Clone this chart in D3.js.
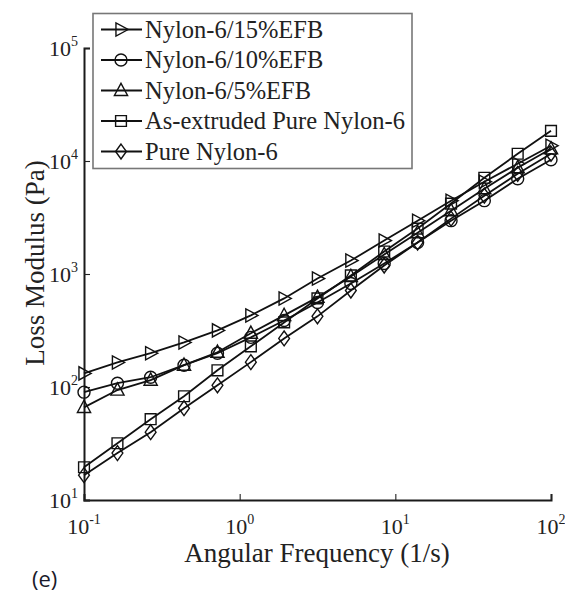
<!DOCTYPE html>
<html>
<head>
<meta charset="utf-8">
<script src="https://cdn.jsdelivr.net/npm/d3@7"></script>
<style>
body { margin: 0; background: #fff; }
</style>
</head>
<body>
<svg id="vis" width="565" height="597"></svg>
<script>
// angular frequency (1/s)
var freq = [0.1, 0.164, 0.268, 0.439, 0.72, 1.18, 1.93, 3.16, 5.18, 8.48, 13.9, 22.8, 37.3, 61.1, 100];

// loss modulus (Pa) per sample
var efb15 = [132, 165, 199, 248, 317, 430, 608, 912, 1315, 1977, 2965, 4456, 6561, 9462, 13650];
var efb10 = [90, 108, 122, 156, 199, 275, 388, 560, 824, 1238, 1897, 2965, 4456, 6966, 10260];
var efb5 = [66, 94, 115, 156, 203, 299, 430, 621, 951, 1486, 2323, 3637, 5690, 8710, 12820];
var extruded = [19.5, 31.8, 51.9, 82.8, 140.6, 229, 373, 608, 971, 1581, 2523, 4198, 7111, 11590, 18490];
var pure = [16.6, 26, 39.8, 64.9, 103.5, 166, 269, 422, 714, 1189, 1897, 3090, 4932, 7709, 11590];

var seriesNames = ["Nylon-6/15%EFB", "Nylon-6/10%EFB", "Nylon-6/5%EFB", "As-extruded Pure Nylon-6", "Pure Nylon-6"];
var seriesValues = [efb15, efb10, efb5, extruded, pure];
var seriesMarkers = ["triRight", "circle", "triangle", "square", "diamond"];

var xTickExp = [-1, 0, 1, 2];
var yTickExp = [1, 2, 3, 4, 5];

var serif = "Liberation Serif";

var svg = d3.select("#vis");

var x = d3.scaleLog().domain([0.1, 100]).range([84, 551]);
var y = d3.scaleLog().domain([10, 1e5]).range([500, 48]);

// marker shapes, open outline
function markerPath(kind, s) {
    var p = d3.path();
    if (kind == "circle") {
        p.arc(0, 0, s * 0.5, 0, 2 * Math.PI);
    } else if (kind == "square") {
        p.rect(-s * 0.45, -s * 0.45, s * 0.9, s * 0.9);
    } else if (kind == "triangle") {
        p.moveTo(0, -s * 0.6); p.lineTo(s * 0.55, s * 0.42); p.lineTo(-s * 0.55, s * 0.42); p.closePath();
    } else if (kind == "triRight") {
        p.moveTo(s * 0.6, 0); p.lineTo(-s * 0.42, s * 0.55); p.lineTo(-s * 0.42, -s * 0.55); p.closePath();
    } else if (kind == "diamond") {
        p.moveTo(0, -s * 0.62); p.lineTo(s * 0.45, 0); p.lineTo(0, s * 0.62); p.lineTo(-s * 0.45, 0); p.closePath();
    }
    return p.toString();
}

// axes: minor and major ticks pointing inward
var gx = svg.append("g").attr("transform", "translate(0,500)");
gx.call(d3.axisBottom(x).tickValues(x.ticks()).tickSize(-3.5).tickFormat(""));
gx.call(d3.axisBottom(x).tickValues(xTickExp.map(function(e) { return Math.pow(10, e); })).tickSize(-6).tickFormat(""));

var gy = svg.append("g").attr("transform", "translate(84,0)");
gy.call(d3.axisLeft(y).tickValues(y.ticks()).tickSize(-3.5).tickFormat(""));
gy.call(d3.axisLeft(y).tickValues(yTickExp.map(function(e) { return Math.pow(10, e); })).tickSize(-6).tickFormat(""));

svg.selectAll(".domain").attr("stroke", "#1a1a1a").attr("stroke-width", 2);
svg.selectAll(".tick line").attr("stroke", "#222").attr("stroke-width", 1.1);

// tick labels as 10^n
var xl = svg.append("g").selectAll("text").data(xTickExp).enter().append("text")
    .attr("x", function(d) { return x(Math.pow(10, d)); })
    .attr("y", 534)
    .attr("text-anchor", "middle")
    .attr("font-family", serif)
    .attr("font-size", 22)
    .attr("fill", "#222");
xl.append("tspan").text("10");
xl.append("tspan").attr("dy", -10).attr("font-size", 14).text(function(d) { return d; });

var yl = svg.append("g").selectAll("text").data(yTickExp).enter().append("text")
    .attr("x", 78)
    .attr("y", function(d) { return y(Math.pow(10, d)) + 8; })
    .attr("text-anchor", "end")
    .attr("font-family", serif)
    .attr("font-size", 22)
    .attr("fill", "#222");
yl.append("tspan").text("10");
yl.append("tspan").attr("dy", -10).attr("font-size", 14).text(function(d) { return d; });

// axis titles
svg.append("text")
    .attr("x", 317).attr("y", 562)
    .attr("text-anchor", "middle")
    .attr("font-family", serif)
    .attr("font-size", 27)
    .attr("fill", "#222")
    .text("Angular Frequency (1/s)");

svg.append("text")
    .attr("transform", "translate(44,263) rotate(-90)")
    .attr("text-anchor", "middle")
    .attr("font-family", serif)
    .attr("font-size", 27)
    .attr("fill", "#222")
    .text("Loss Modulus (Pa)");

// series
var line = d3.line()
    .x(function(d, i) { return x(freq[i]); })
    .y(function(d) { return y(d); });

seriesValues.forEach(function(vals, k) {
    var g = svg.append("g");
    g.append("path")
        .attr("d", line(vals))
        .attr("fill", "none")
        .attr("stroke", "#111")
        .attr("stroke-width", 1.8);
    g.selectAll("path.mk").data(vals).enter().append("path")
        .classed("mk", true)
        .attr("transform", function(d, i) { return "translate(" + x(freq[i]) + "," + y(d) + ")"; })
        .attr("d", markerPath(seriesMarkers[k], 12))
        .attr("fill", "none")
        .attr("stroke", "#111")
        .attr("stroke-width", 1.4);
});

// legend
var leg = svg.append("g");
leg.append("rect")
    .attr("x", 93).attr("y", 13.5)
    .attr("width", 319).attr("height", 155)
    .attr("fill", "#fff")
    .attr("stroke", "#777")
    .attr("stroke-width", 1.6);

var rows = leg.selectAll("g.row").data(seriesNames).enter().append("g")
    .classed("row", true)
    .attr("transform", function(d, i) { return "translate(0," + (29.5 + i * 30.5) + ")"; });
rows.append("line")
    .attr("x1", 101).attr("x2", 142)
    .attr("stroke", "#111").attr("stroke-width", 1.8);
rows.append("path")
    .attr("transform", "translate(121,0)")
    .attr("d", function(d, i) { return markerPath(seriesMarkers[i], 12); })
    .attr("fill", "none").attr("stroke", "#111").attr("stroke-width", 1.4);
rows.append("text")
    .attr("x", 145).attr("y", 8)
    .attr("font-family", serif)
    .attr("font-size", 24.5)
    .attr("fill", "#222")
    .text(function(d) { return d; });

// panel label
svg.append("text")
    .attr("x", 32).attr("y", 587)
    .attr("font-family", "Open Sans")
    .attr("font-size", 22)
    .attr("fill", "#1a1a2a")
    .text("(e)");
</script>
</body>
</html>
